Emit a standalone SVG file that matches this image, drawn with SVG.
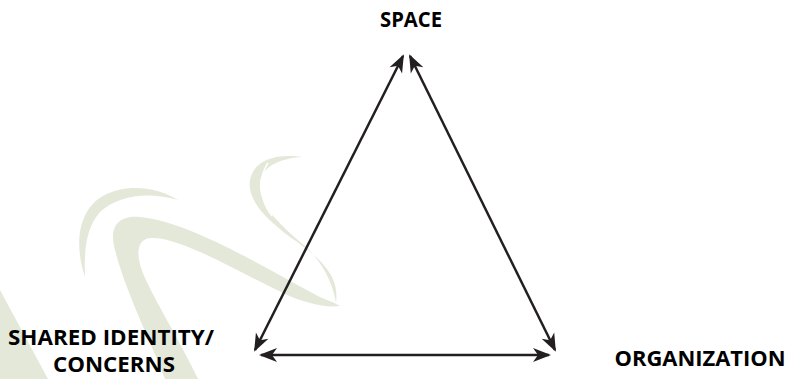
<svg xmlns="http://www.w3.org/2000/svg" width="792" height="379" viewBox="0 0 792 379">
  <style>
    .wm { fill: #e4e8d9; stroke: none; }
    .lbl { font-family: "Open Sans", "Liberation Sans", sans-serif; font-weight: bold; font-size: 21px; fill: #000000; }
    .conn { stroke: #231f20; stroke-width: 2.5; fill: none; marker-start: url(#ah); marker-end: url(#ah); }
  </style>
  <defs>
    <marker id="ah" markerUnits="userSpaceOnUse" markerWidth="24" markerHeight="20" refX="0" refY="0" viewBox="-20 -10 24 20" orient="auto-start-reverse" overflow="visible">
      <path d="M2,0 L-16,-7 L-11,0 L-16,7 Z" fill="#231f20"/>
    </marker>
  </defs>
  <rect width="792" height="379" fill="#ffffff"/>
  <g id="watermark">
    <path class="wm" d="M0,290 L48,379 L0,379 Z"/>
    <path class="wm" d="M85,277 C74,245 78,210 103,196 C125,184 155,186 178,200 C150,192 120,194 100,212 C86,228 84,250 85,277 Z"/>
    <path class="wm" d="M165,379 C150,340 125,290 115,250 C108,225 120,215 140,217 C190,222 260,265 318,296 C328,301 336,303 340,306 C325,308 305,303 285,294 C240,273 180,236 150,238 C135,240 136,258 145,278 C160,310 182,345 198,379 Z"/>
    <path class="wm" d="M303,157 C275,153 254,160 250,180 C247,200 265,218 290,237 C320,258 340,275 336,303 C333,285 325,265 305,246 C280,225 258,205 260,183 C261,168 278,158 303,157 Z"/>
    <path d="M268,163 C259,176 258,198 272,216" stroke="#ffffff" stroke-width="1.5" fill="none"/>
  </g>
  <g id="connectors">
    <line class="conn" x1="255" y1="350" x2="403" y2="56"/>
    <line class="conn" x1="410" y1="56" x2="555" y2="350"/>
    <line class="conn" x1="261" y1="355" x2="549" y2="355"/>
  </g>
  <g id="node-space">
    <text class="lbl" x="411" y="27" text-anchor="middle" textLength="62" lengthAdjust="spacingAndGlyphs">SPACE</text>
  </g>
  <g id="node-shared">
    <text class="lbl" x="111" y="345" text-anchor="middle" textLength="206" lengthAdjust="spacingAndGlyphs">SHARED IDENTITY/</text>
    <text class="lbl" x="114" y="372" text-anchor="middle" textLength="122" lengthAdjust="spacingAndGlyphs">CONCERNS</text>
  </g>
  <g id="node-organization">
    <text class="lbl" x="700" y="366" text-anchor="middle" textLength="171" lengthAdjust="spacingAndGlyphs">ORGANIZATION</text>
  </g>
</svg>
